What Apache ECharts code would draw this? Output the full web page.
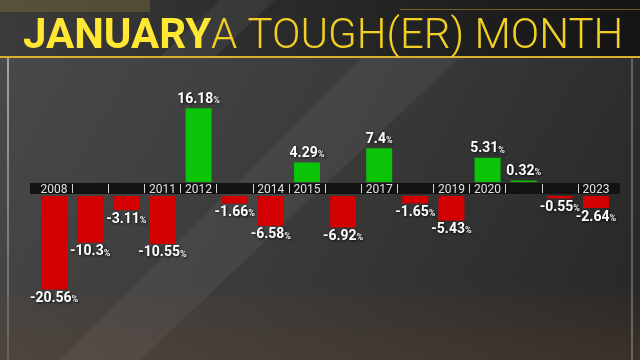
<!DOCTYPE html>
<html><head><meta charset="utf-8">
<script src="https://cdn.jsdelivr.net/npm/echarts@6/dist/echarts.min.js"></script>
<style>html,body{margin:0;padding:0;background:#333}#c{width:640px;height:360px}</style>
</head><body><div id="c"></div>
<script>
const years = ['2008','2009','2010','2011','2012','2013','2014','2015','2016','2017','2018','2019','2020','2021','2022','2023'];
const axisLabels = ['2008','','','2011','2012','','2014','2015','','2017','','2019','2020','','','2023'];
const changes = [-20.56,-10.3,-3.11,-10.55,16.18,-1.66,-6.58,4.29,-6.92,7.4,-1.65,-5.43,5.31,0.32,-0.55,-2.64];
const titleBold = 'JANUARY';
const titleLight = 'A TOUGH(ER) MONTH';

const gains = changes.map(v => v > 0 ? v : '-');
const losses = changes.map(v => v < 0 ? v : '-');
const slots = years.map((y, i) => String(i)).concat([String(years.length)]);

const chart = echarts.init(document.getElementById('c'), null, {renderer: 'canvas'});
const G = echarts.graphic;
const shadow = {textShadowColor: 'rgba(0,0,0,0.85)', textShadowBlur: 3, textShadowOffsetX: 1, textShadowOffsetY: 1};
const labelRich = {
  n: Object.assign({fontSize: 14, fontWeight: 'bold', color: '#fff', fontFamily: 'Roboto'}, shadow),
  p: Object.assign({fontSize: 9, fontWeight: 'bold', color: '#eee', fontFamily: 'Roboto', padding: [3, 0, 0, 0]}, shadow)
};
const fmt = p => '{n|' + p.value + '}{p|%}';

chart.setOption({
  animation: false,
  backgroundColor: '#333',
  graphic: [
    {type: 'rect', z: -10, shape: {x: 0, y: 0, width: 640, height: 360},
     style: {fill: new G.LinearGradient(0, 0, 1, 1, [
       {offset: 0, color: '#4a4a4a'}, {offset: 0.5, color: '#3a3a3a'}, {offset: 1, color: '#262626'}])}},
    {type: 'rect', z: -9, shape: {x: 0, y: 280, width: 640, height: 80},
     style: {fill: new G.LinearGradient(0, 0, 0, 1, [
       {offset: 0, color: 'rgba(110,75,45,0)'}, {offset: 1, color: 'rgba(110,75,45,0.3)'}])}},
    {type: 'polygon', z: -8, shape: {points: [[60, 360], [140, 360], [520, 0], [420, 0]]},
     style: {fill: 'rgba(255,255,255,0.05)'}},
    {type: 'rect', z: -7, shape: {x: 7, y: 58, width: 2, height: 302},
     style: {fill: new G.LinearGradient(0, 0, 0, 1, [
       {offset: 0, color: 'rgba(255,255,255,0.5)'}, {offset: 1, color: 'rgba(255,255,255,0.15)'}])}},
    {type: 'rect', z: -7, shape: {x: 631, y: 58, width: 2, height: 302},
     style: {fill: 'rgba(255,255,255,0.25)'}},
    {type: 'rect', z: -6, shape: {x: 0, y: 0, width: 640, height: 57},
     style: {fill: new G.LinearGradient(0, 0, 1, 0, [
       {offset: 0, color: '#3b3b3b'}, {offset: 0.35, color: '#2e2e2e'}, {offset: 1, color: '#141414'}])}},
    {type: 'polygon', z: -5, shape: {points: [[160, 57], [215, 57], [275, 0], [220, 0]]},
     style: {fill: 'rgba(255,255,255,0.06)'}},
    {type: 'rect', z: -5, shape: {x: 0, y: 0, width: 150, height: 12},
     style: {fill: 'rgba(180,150,60,0.25)'}},
    {type: 'rect', z: -5, shape: {x: 400, y: 9, width: 240, height: 1},
     style: {fill: 'rgba(200,160,50,0.5)'}},
    {type: 'rect', z: -5, shape: {x: 0, y: 56, width: 640, height: 2},
     style: {fill: '#d6b030'}},
    {type: 'text', z: 5, style: {text: titleBold, x: 23, y: 37, verticalAlign: 'middle',
      font: 'bold 42px Roboto', fill: '#ffe733',
      shadowColor: 'rgba(0,0,0,0.6)', shadowBlur: 3}},
    {type: 'text', z: 5, style: {text: titleLight, x: 211, y: 37, verticalAlign: 'middle',
      font: '300 42px Roboto', fill: '#f2cf22'}},
    {type: 'rect', z: 0, shape: {x: 30, y: 183, width: 590, height: 11},
     style: {fill: '#121212'}}
  ],
  grid: [
    {left: 36, right: 26, top: 100, height: 82},
    {left: 36, right: 26, top: 196, height: 100}
  ],
  xAxis: [
    {gridIndex: 0, type: 'category', data: years, position: 'bottom', z: 10,
     axisLine: {show: false}, axisTick: {show: false},
     axisLabel: {interval: 0, formatter: (v, i) => axisLabels[i], color: '#e0e0e0',
       fontSize: 12, fontFamily: 'Roboto', margin: 2}},
    {gridIndex: 0, type: 'category', data: slots, boundaryGap: false, position: 'bottom', offset: 2, z: 10,
     axisLine: {show: false}, axisLabel: {show: false},
     axisTick: {show: true, interval: i => i > 0 && i < years.length, length: 9,
       lineStyle: {color: '#d0d0d0', width: 1}}},
    {gridIndex: 1, type: 'category', data: years, show: false}
  ],
  yAxis: [
    {gridIndex: 0, type: 'value', min: 0, max: 18, show: false},
    {gridIndex: 1, type: 'value', min: -22, max: 0, show: false}
  ],
  series: [
    {type: 'bar', xAxisIndex: 0, yAxisIndex: 0, data: gains, barWidth: 26,
     itemStyle: {color: '#0ac40a'},
     label: {show: true, position: 'top', distance: 2, formatter: fmt, rich: labelRich}},
    {type: 'bar', xAxisIndex: 2, yAxisIndex: 1, data: losses, barWidth: 26,
     itemStyle: {color: '#d20000'},
     label: {show: true, position: 'bottom', distance: 2, formatter: fmt, rich: labelRich}}
  ]
});
</script></body></html>
